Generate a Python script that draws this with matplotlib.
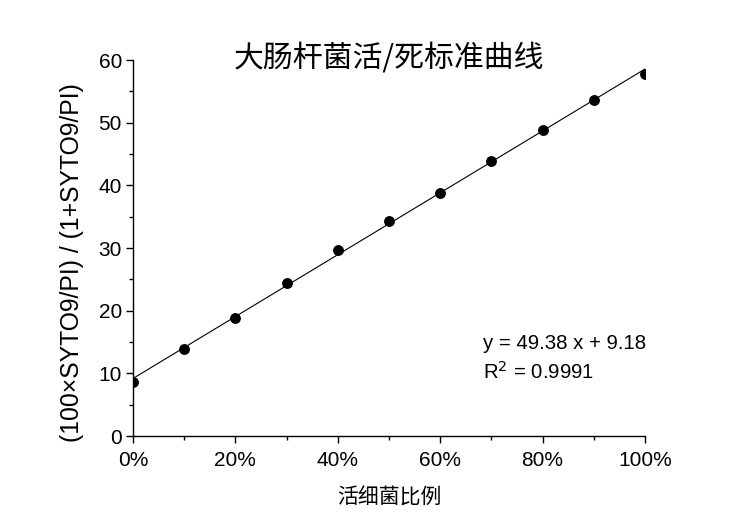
import matplotlib
matplotlib.use("Agg")
import matplotlib.pyplot as plt
from matplotlib.ticker import PercentFormatter, MultipleLocator
import numpy as np

x_frac = [0.0, 0.1, 0.2, 0.3, 0.4, 0.5, 0.6, 0.7, 0.8, 0.9, 1.0]
y_vals = [8.6, 13.9, 18.8, 24.4, 29.7, 34.3, 38.8, 43.9, 48.8, 53.6, 57.8]
slope = 49.38
intercept = 9.18
r2 = 0.9991

title = "大肠杆菌活/死标准曲线"
xlabel = "活细菌比例"
ylabel = "(100×SYTO9/PI) / (1+SYTO9/PI)"

plt.rcParams['font.family'] = ['Liberation Sans', 'Noto Sans CJK SC', 'DejaVu Sans']

fig = plt.figure(figsize=(7.5, 5.24), dpi=100)
ax = fig.add_axes([133/750, 1-436/524, (645-133)/750, (436-60)/524])

fx = np.array([0.0, 1.0])
ax.plot(fx, slope*fx + intercept, color='black', lw=0.8, zorder=2)
ax.plot(x_frac, y_vals, 'o', color='black', ms=6.8, zorder=3)

ax.set_xlim(0, 1)
ax.set_ylim(0, 60)
ax.xaxis.set_major_locator(MultipleLocator(0.2))
ax.xaxis.set_minor_locator(MultipleLocator(0.1))
ax.yaxis.set_major_locator(MultipleLocator(10))
ax.yaxis.set_minor_locator(MultipleLocator(5))
ax.xaxis.set_major_formatter(PercentFormatter(1.0, decimals=0))

for s in ['top', 'right']:
    ax.spines[s].set_visible(False)
for s in ['left', 'bottom']:
    ax.spines[s].set_linewidth(1.0)
ax.tick_params(which='major', direction='out', length=5, width=1, labelsize=15, pad=3)
ax.tick_params(axis='x', which='major', pad=6)
ax.tick_params(which='minor', direction='out', length=3, width=1)

ax.set_xlabel(xlabel, fontsize=15, family=['Noto Sans CJK SC'], labelpad=12)
ax.set_ylabel(ylabel, fontsize=17.8)
ax.yaxis.set_label_coords(-0.095, 0.46)
ax.set_title(title, fontsize=21.5, family=['Noto Sans CJK SC'], pad=-5, y=1.0)

ax.text(0.683, 14.8, f"y = {slope:.2f} x + {intercept:.2f}", fontsize=14.7, va='center')
ax.text(0.683, 10.3, f"R$^2$ = {r2:.4f}", fontsize=14.7, va='center')

fig.savefig("out.png", dpi=100)
